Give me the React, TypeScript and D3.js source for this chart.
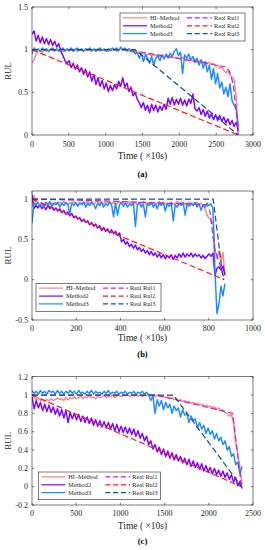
import React from "react";
import * as d3 from "d3";

// ---------- Panel (a) : sampled every 28 time units (x10s) ----------
const STEP_A = 28;
const hiA = [
  0.85, 0.88, 0.95, 0.98, 0.99, 0.97, 1.0, 0.98, 0.99, 1.01,
  0.99, 0.98, 1.0, 0.99, 1.01, 0.98, 0.99, 1.0, 0.98, 1.0,
  0.99, 1.01, 0.98, 1.0, 0.99, 0.98, 1.0, 1.01, 0.99, 0.98,
  1.0, 0.99, 1.01, 0.98, 1.0, 0.99, 1.0, 0.98, 1.01, 0.99,
  1.0, 0.98, 0.99, 1.01, 0.99, 1.0, 0.98, 0.99, 0.98, 0.97,
  0.98, 0.96, 0.97, 0.95, 0.96, 0.95, 0.94, 0.95, 0.93, 0.94,
  0.93, 0.94, 0.92, 0.93, 0.91, 0.92, 0.93, 0.91, 0.92, 0.9,
  0.91, 0.9, 0.89, 0.91, 0.89, 0.88, 0.9, 0.88, 0.87, 0.89,
  0.87, 0.86, 0.88, 0.85, 0.86, 0.84, 0.85, 0.83, 0.84, 0.8,
  0.82, 0.78, 0.8, 0.76, 0.73, 0.75, 0.7, 0.68, 0.64, 0.45, 0.05,
];
const m2A = [
  1.18, 1.22, 1.1, 1.17, 1.08, 1.15, 1.07, 1.13, 1.06, 1.12,
  1.05, 1.1, 1.03, 1.07, 0.98, 0.93, 0.87, 0.84, 0.87, 0.79,
  0.84, 0.77, 0.82, 0.74, 0.79, 0.71, 0.77, 0.68, 0.74, 0.63,
  0.71, 0.59, 0.67, 0.57, 0.64, 0.54, 0.61, 0.51, 0.58, 0.52,
  0.59, 0.54, 0.63, 0.57, 0.67, 0.56, 0.61, 0.51, 0.56, 0.46,
  0.5, 0.42, 0.38, 0.32, 0.38, 0.29, 0.35, 0.26, 0.36, 0.29,
  0.35, 0.27, 0.34, 0.29, 0.36, 0.3, 0.43, 0.36, 0.44, 0.35,
  0.42, 0.36, 0.43, 0.35, 0.41, 0.34, 0.42, 0.37, 0.48, 0.31,
  0.28, 0.32, 0.24, 0.3, 0.22, 0.28, 0.2, 0.25, 0.18, 0.24,
  0.17, 0.23, 0.16, 0.21, 0.14, 0.19, 0.12, 0.17, 0.1, 0.15, 0.05,
];
const m3A = [
  0.95, 1.02, 0.99, 1.01, 0.98, 1.02, 0.99, 1.01, 0.98, 1.0,
  1.02, 0.99, 1.01, 0.98, 1.0, 1.02, 0.98, 1.01, 0.99, 1.02,
  0.98, 1.0, 1.02, 0.99, 1.01, 0.98, 1.01, 0.99, 1.02, 0.99,
  1.01, 0.98, 1.0, 1.02, 0.99, 1.01, 0.98, 1.01, 0.99, 1.02,
  1.0, 1.02, 0.99, 1.03, 1.0, 1.02, 0.99, 1.01, 0.98, 0.99,
  0.95, 0.97, 0.9, 0.96, 0.86, 0.94, 0.9, 0.84, 0.92, 0.82,
  0.9, 0.93, 0.87, 0.94, 0.89, 0.95, 0.9, 0.96, 0.92, 0.98,
  1.01, 0.93, 0.97, 0.72, 0.94, 0.9, 0.95, 0.88, 0.92, 0.85,
  0.9, 0.82, 0.88, 0.78, 0.86, 0.74, 0.82, 0.65, 0.78, 0.6,
  0.72, 0.55, 0.62, 0.48, 0.56, 0.45, 0.6, 0.4, 0.35, 0.3, 0.1,
];
const rul1A_t = [0, 1300, 2620, 2680, 2730, 2770, 2800];
const rul1A_v = [1, 1, 0.8, 0.75, 0.6, 0.3, 0];
const rul2A_t = [0, 2800];
const rul2A_v = [1, 0];
const rul3A_t = [0, 1400, 2800];
const rul3A_v = [1, 1, 0];

// ---------- Panel (b) : sampled every 9 time units ----------
const STEP_B = 9;
const hiB = [
  0.9, 1.04, 0.92, 0.9, 0.93, 0.91, 0.94, 0.92, 0.95, 0.93,
  0.95, 0.93, 0.96, 0.94, 0.96, 0.94, 0.97, 0.95, 0.93, 0.96,
  0.94, 0.97, 0.95, 0.93, 0.96, 0.94, 0.97, 0.95, 0.98, 0.95,
  0.97, 0.94, 0.96, 0.98, 0.95, 0.97, 0.94, 0.96, 0.95, 0.97,
  0.94, 0.96, 0.93, 0.95, 0.97, 0.94, 0.96, 0.93, 0.95, 0.97,
  0.94, 0.96, 0.95, 0.93, 0.96, 0.94, 0.97, 0.95, 0.93, 0.96,
  0.94, 0.96, 0.93, 0.95, 0.97, 0.94, 0.96, 0.93, 0.95, 0.94,
  0.96, 0.93, 0.95, 0.97, 0.94, 0.96, 0.93, 0.95, 0.94, 0.96,
  0.93, 0.95, 0.94, 0.96, 0.93, 0.95, 0.92, 0.88, 0.8, 0.77,
  0.74, 0.7, 0.38, 0.26, 0.36, 0.22, 0.34, 0.05,
];
const m2B = [
  1.06, 0.88, 0.92, 0.89, 0.93, 0.88, 0.91, 0.87, 0.92, 0.88,
  0.9, 0.86, 0.89, 0.85, 0.88, 0.83, 0.86, 0.81, 0.84, 0.79,
  0.82, 0.77, 0.79, 0.75, 0.77, 0.72, 0.75, 0.71, 0.73, 0.68,
  0.71, 0.66, 0.69, 0.64, 0.67, 0.61, 0.65, 0.6, 0.63, 0.58,
  0.62, 0.57, 0.6, 0.55, 0.58, 0.47, 0.5, 0.44, 0.47, 0.41,
  0.44, 0.39, 0.43, 0.37, 0.4, 0.35, 0.38, 0.33, 0.36, 0.31,
  0.35, 0.3, 0.33, 0.28, 0.32, 0.27, 0.31, 0.26, 0.3, 0.27,
  0.31, 0.25, 0.3, 0.27, 0.32, 0.28, 0.33, 0.28, 0.32, 0.29,
  0.33, 0.28, 0.32, 0.29, 0.31, 0.27, 0.3, 0.26, 0.29, 0.32,
  0.29, 0.33, 0.05, 0.14, 0.16, 0.12, 0.17, 0.06,
];
const m3B = [
  0.7, 0.95, 0.93, 0.96, 0.92, 0.95, 0.9, 0.96, 0.93, 0.97,
  0.91, 0.95, 0.93, 0.96, 0.9, 0.95, 0.92, 0.96, 0.93, 0.82,
  0.95, 0.92, 0.96, 0.91, 0.95, 0.93, 0.96, 0.9, 0.95, 0.92,
  0.96, 0.93, 0.88, 0.95, 0.92, 0.96, 0.9, 0.94, 0.92, 0.96,
  0.93, 0.78, 0.95, 0.8, 0.93, 0.96, 0.91, 0.95, 0.9, 0.94,
  0.92, 0.95, 0.66, 0.93, 0.96, 0.9, 0.94, 0.78, 0.95, 0.92,
  0.96, 0.9, 0.94, 0.88, 0.95, 0.92, 0.96, 0.85, 0.94, 0.91,
  0.95, 0.73, 0.93, 0.9, 0.95, 0.92, 0.96, 0.8, 0.94, 0.91,
  0.95, 0.92, 0.96, 0.9, 0.94, 0.86, 0.93, 0.9, 0.95, 0.92,
  0.94, 0.88, 0.1, -0.42, -0.3, -0.08, -0.2, -0.05,
];
const rul1B_t = [0, 300, 790, 805, 825, 870];
const rul1B_v = [1, 0.98, 0.93, 0.85, 0.4, 0.02];
const rul2B_t = [0, 870];
const rul2B_v = [1, 0];
const rul3B_t = [0, 820, 865];
const rul3B_v = [1, 1, 0];

// ---------- Panel (c) : sampled every 24 time units ----------
const STEP_C = 24;
const hiC = [
  1.0, 0.97, 0.95, 0.96, 0.94, 0.95, 0.93, 0.95, 0.94, 0.96,
  0.94, 0.95, 0.97, 0.95, 0.96, 0.94, 0.97, 0.95, 0.97, 0.96,
  0.98, 0.96, 0.97, 0.99, 0.96, 0.98, 0.97, 0.99, 0.97, 0.98,
  0.96, 0.99, 0.97, 0.98, 1.0, 0.97, 0.99, 0.98, 1.0, 0.97,
  0.99, 1.0, 0.98, 1.0, 0.99, 1.01, 0.98, 1.0, 0.99, 1.01,
  0.99, 1.0, 0.98, 1.0, 0.99, 1.01, 0.99, 1.0, 0.98, 1.0,
  0.99, 0.98, 0.99, 0.97, 0.98, 0.96, 0.97, 0.95, 0.96, 0.94,
  0.95, 0.93, 0.94, 0.92, 0.93, 0.91, 0.92, 0.9, 0.91, 0.89,
  0.9, 0.88, 0.89, 0.87, 0.88, 0.86, 0.87, 0.84, 0.86, 0.83,
  0.84, 0.81, 0.8, 0.77, 0.79, 0.7, 0.48, 0.35, 0.22, 0.02,
];
const m2C = [
  0.98, 0.85, 0.94, 0.86, 0.92, 0.83, 0.9, 0.82, 0.89, 0.81,
  0.87, 0.79, 0.85, 0.77, 0.84, 0.75, 0.83, 0.7, 0.81, 0.74,
  0.8, 0.73, 0.79, 0.71, 0.77, 0.7, 0.76, 0.69, 0.75, 0.67,
  0.73, 0.66, 0.72, 0.65, 0.71, 0.64, 0.7, 0.63, 0.69, 0.61,
  0.68, 0.6, 0.66, 0.59, 0.65, 0.58, 0.64, 0.57, 0.63, 0.55,
  0.61, 0.53, 0.58, 0.5, 0.55, 0.46, 0.5, 0.41, 0.46, 0.38,
  0.43, 0.35, 0.41, 0.33, 0.39, 0.31, 0.37, 0.29, 0.35, 0.28,
  0.33, 0.26, 0.31, 0.24, 0.3, 0.22, 0.28, 0.21, 0.26, 0.19,
  0.25, 0.17, 0.23, 0.16, 0.21, 0.14, 0.2, 0.13, 0.18, 0.11,
  0.17, 0.1, 0.15, 0.08, 0.13, 0.05, 0.1, 0.01, 0.06, -0.02,
];
const m3C = [
  1.05, 1.02, 1.04, 1.01, 1.05, 1.02, 1.04, 1.01, 1.05, 1.03,
  1.04, 1.01, 1.05, 1.02, 1.04, 1.01, 1.04, 1.02, 1.05, 1.02,
  1.04, 1.01, 1.05, 1.02, 1.03, 1.01, 1.04, 1.02, 1.05, 1.01,
  1.04, 1.02, 1.03, 1.01, 1.04, 1.02, 1.05, 1.01, 1.03, 1.02,
  1.04, 1.01, 1.03, 1.02, 1.04, 1.01, 1.03, 1.02, 1.04, 1.01,
  1.03, 1.02, 1.04, 1.01, 1.03, 1.0, 0.94, 0.99, 0.8, 0.95,
  0.88, 0.94, 0.84, 0.92, 0.86, 0.9, 0.8, 0.88, 0.83, 0.86,
  0.76, 0.84, 0.78, 0.8, 0.7, 0.77, 0.72, 0.74, 0.64, 0.7,
  0.63, 0.67, 0.58, 0.64, 0.57, 0.61, 0.52, 0.58, 0.5, 0.54,
  0.46, 0.5, 0.4, 0.44, 0.33, 0.36, 0.24, 0.27, 0.14, 0.22,
];
const rul1C_t = [0, 1400, 2270, 2370];
const rul1C_v = [1, 1, 0.8, 0];
const rul2C_t = [0, 2370];
const rul2C_v = [1, 0];
const rul3C_t = [0, 1600, 2370];
const rul3C_v = [1, 1, 0];

// ---------- ticks ----------
const xTicksA = [0, 500, 1000, 1500, 2000, 2500, 3000];
const yTicksA = [0, 0.5, 1, 1.5];
const xTicksB = [0, 200, 400, 600, 800, 1000];
const yTicksB = [-0.5, 0, 0.5, 1];
const xTicksC = [0, 500, 1000, 1500, 2000, 2500];
const yTicksC = [-0.2, 0, 0.2, 0.4, 0.6, 0.8, 1, 1.2];

const LABELS = ["HI\u2013Method", "Method2", "Method3", "Real Rul1", "Real Rul2", "Real Rul3"];
const COLORS = ["#F98585", "#8000FF", "#1A8CFF", "#CC22CC", "#FF1A1A", "#14507E"];
const FONT = "'Liberation Serif', 'Times New Roman', serif";
const AX = "#262626";

type Pt = [number, number];
const sampled = (vals: number[], step: number): Pt[] => vals.map((v, i) => [i * step, v]);
const paired = (t: number[], v: number[]): Pt[] => t.map((x, i) => [x, v[i]]);

interface PanelProps {
  id: string;
  top: number;
  bottom: number;
  xDomain: [number, number];
  yDomain: [number, number];
  xTicks: number[];
  yTicks: number[];
  data: Pt[][];
  legend: { x: number; y: number; w: number; h: number };
  letter: string;
  tickY: number;
  xlabelY: number;
  letterY: number;
}

function Panel(p: PanelProps) {
  const left = 32;
  const right = 253;
  const x = d3.scaleLinear().domain(p.xDomain).range([left, right]);
  const y = d3.scaleLinear().domain(p.yDomain).range([p.bottom, p.top]);
  const line = d3
    .line<Pt>()
    .x((d) => x(d[0]))
    .y((d) => y(d[1]));
  const tl = 2.2;
  const lg = p.legend;
  const rowOff = [4.8, 12.8, 20.6];
  return (
    <g>
      <defs>
        <clipPath id={`clip-${p.id}`}>
          <rect x={left} y={p.top} width={right - left} height={p.bottom - p.top} />
        </clipPath>
      </defs>
      <rect x={left} y={p.top} width={right - left} height={p.bottom - p.top} fill="#fff" />
      <g clipPath={`url(#clip-${p.id})`}>
        {p.data.map((d, i) => (
          <path
            key={i}
            d={line(d) || ""}
            fill="none"
            stroke={COLORS[i]}
            strokeWidth={i < 3 ? 1.45 : 1.2}
            strokeDasharray={i < 3 ? undefined : "6,3"}
            strokeLinejoin="round"
          />
        ))}
      </g>
      {p.xTicks.map((t) => (
        <g key={`x${t}`}>
          <line x1={x(t)} x2={x(t)} y1={p.bottom} y2={p.bottom - tl} stroke={AX} strokeWidth={0.6} />
          <line x1={x(t)} x2={x(t)} y1={p.top} y2={p.top + tl} stroke={AX} strokeWidth={0.6} />
          <text x={x(t)} y={p.tickY} fontSize={8} fontFamily={FONT} fill={AX} textAnchor="middle">
            {t}
          </text>
        </g>
      ))}
      {p.yTicks.map((t) => (
        <g key={`y${t}`}>
          <line x1={left} x2={left + tl} y1={y(t)} y2={y(t)} stroke={AX} strokeWidth={0.6} />
          <line x1={right} x2={right - tl} y1={y(t)} y2={y(t)} stroke={AX} strokeWidth={0.6} />
          <text x={28} y={y(t) + 2.8} fontSize={8} fontFamily={FONT} fill={AX} textAnchor="end">
            {String(t)}
          </text>
        </g>
      ))}
      <rect x={left} y={p.top} width={right - left} height={p.bottom - p.top} fill="none" stroke={AX} strokeWidth={0.6} />
      <rect x={lg.x} y={lg.y} width={lg.w} height={lg.h} fill="#fff" stroke={AX} strokeWidth={0.6} />
      {LABELS.map((lab, i) => {
        const col = i < 3 ? 0 : 1;
        const ry = lg.y + rowOff[i % 3];
        const lx1 = lg.x + (col === 0 ? 3 : 67);
        const lx2 = lg.x + (col === 0 ? 27 : 92);
        const tx = lg.x + (col === 0 ? 30 : 94);
        return (
          <g key={lab}>
            <line
              x1={lx1}
              x2={lx2}
              y1={ry}
              y2={ry}
              stroke={COLORS[i]}
              strokeWidth={1.2}
              strokeDasharray={i < 3 ? undefined : "5,2.8"}
            />
            <text x={tx} y={ry + 2.2} fontSize={6.3} fontFamily={FONT} fill={AX}>
              {lab}
            </text>
          </g>
        );
      })}
      <text x={(left + right) / 2} y={p.xlabelY} fontSize={9.5} fontFamily={FONT} fill={AX} textAnchor="middle">
        Time ( ×10s)
      </text>
      <text
        transform={`translate(11,${(p.top + p.bottom) / 2}) rotate(-90)`}
        fontSize={9}
        fontFamily={FONT}
        fill={AX}
        textAnchor="middle"
      >
        RUL
      </text>
      <text x={(left + right) / 2} y={p.letterY} fontSize={8.5} fontWeight="bold" fontFamily={FONT} fill="#000" textAnchor="middle">
        {p.letter}
      </text>
    </g>
  );
}

export default function App() {
  const dataA: Pt[][] = [
    sampled(hiA, STEP_A),
    sampled(m2A, STEP_A),
    sampled(m3A, STEP_A),
    paired(rul1A_t, rul1A_v),
    paired(rul2A_t, rul2A_v),
    paired(rul3A_t, rul3A_v),
  ];
  const dataB: Pt[][] = [
    sampled(hiB, STEP_B),
    sampled(m2B, STEP_B),
    sampled(m3B, STEP_B),
    paired(rul1B_t, rul1B_v),
    paired(rul2B_t, rul2B_v),
    paired(rul3B_t, rul3B_v),
  ];
  const dataC: Pt[][] = [
    sampled(hiC, STEP_C),
    sampled(m2C, STEP_C),
    sampled(m3C, STEP_C),
    paired(rul1C_t, rul1C_v),
    paired(rul2C_t, rul2C_v),
    paired(rul3C_t, rul3C_v),
  ];
  return (
    <svg
      width={265}
      height={550}
      style={{ position: "absolute", left: 0, top: 0, background: "#fff" }}
    >
      <rect width={265} height={550} fill="#fff" />
      <Panel
        id="a"
        top={7}
        bottom={135}
        xDomain={[0, 3000]}
        yDomain={[0, 1.5]}
        xTicks={xTicksA}
        yTicks={yTicksA}
        data={dataA}
        legend={{ x: 120, y: 13, w: 125, h: 28 }}
        letter="(a)"
        tickY={147}
        xlabelY={158.5}
        letterY={176.5}
      />
      <Panel
        id="b"
        top={191}
        bottom={320}
        xDomain={[0, 1000]}
        yDomain={[-0.5, 1.1]}
        xTicks={xTicksB}
        yTicks={yTicksB}
        data={dataB}
        legend={{ x: 36, y: 283.3, w: 125, h: 28.4 }}
        letter="(b)"
        tickY={330.5}
        xlabelY={340.5}
        letterY={356.5}
      />
      <Panel
        id="c"
        top={376.7}
        bottom={505}
        xDomain={[0, 2500]}
        yDomain={[-0.2, 1.2]}
        xTicks={xTicksC}
        yTicks={yTicksC}
        data={dataC}
        legend={{ x: 38.3, y: 472, w: 122, h: 27.7 }}
        letter="(c)"
        tickY={515.5}
        xlabelY={528.5}
        letterY={543.5}
      />
    </svg>
  );
}
